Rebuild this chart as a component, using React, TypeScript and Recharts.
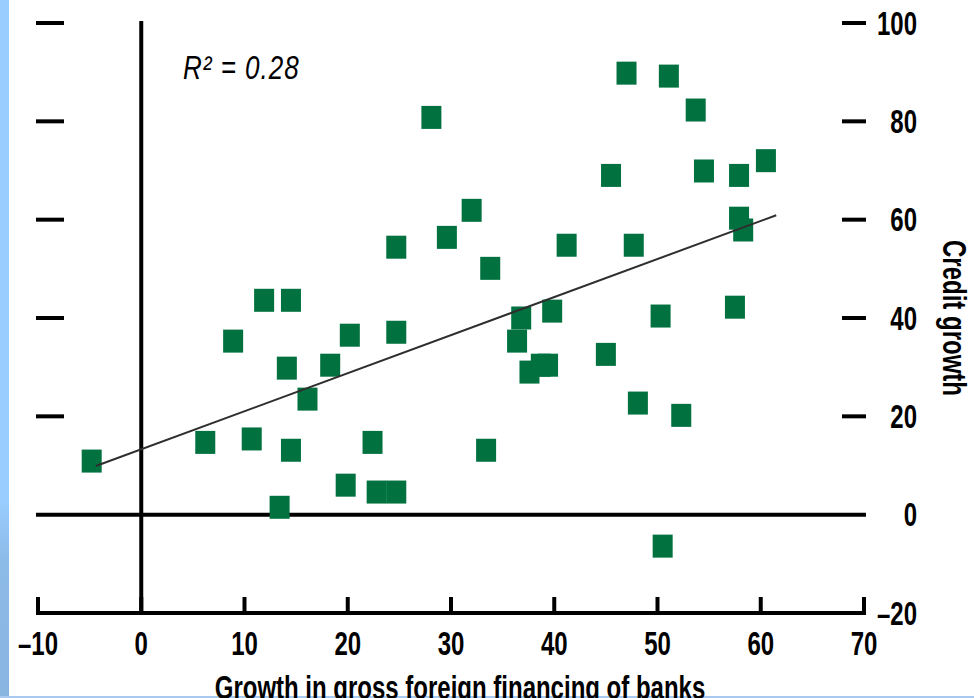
import React from "react";
import { ScatterChart, Scatter, XAxis, YAxis, ReferenceLine } from "recharts";

// growth in gross foreign financing of banks (x) vs credit growth (y)
const foreignFinancingGrowth = [
    -4.8, 6.2, 8.9, 10.7, 11.9, 14.5, 14.1, 14.5, 13.4, 16.1, 18.3, 20.2, 19.8,
    22.4, 22.8, 24.7, 24.7, 24.7, 28.1, 29.6, 32.0, 33.4, 33.8, 36.4, 36.8, 37.6,
    38.7, 39.4, 39.8, 41.2, 45.0, 45.5, 47.0, 47.7, 48.1, 50.3, 50.5, 51.1, 52.3,
    53.7, 54.5, 57.5, 57.9, 57.9, 58.3, 60.5,
];
const creditGrowth = [
    10.9, 14.7, 35.3, 15.4, 43.6, 43.6, 29.8, 13.1, 1.5, 23.5, 30.4, 36.5, 6.0,
    14.7, 4.6, 4.6, 37.1, 54.4, 80.8, 56.4, 61.9, 13.1, 50.1, 35.3, 40.0, 29.0,
    30.4, 30.4, 41.4, 54.8, 32.6, 69.0, 89.8, 54.8, 22.7, 40.4, -6.4, 89.2, 20.2,
    82.3, 69.9, 42.2, 69.0, 60.3, 57.9, 72.0,
];

// end points of the fitted line
const fitX = [-4.4, 61.5];
const fitY = [9.9, 60.9];

const xTicks = [-10, 0, 10, 20, 30, 40, 50, 60, 70];
const yTicks = [-20, 0, 20, 40, 60, 80, 100];
const leftTicks = [20, 40, 60, 80, 100];

const FONT = "'Liberation Sans', Arial, sans-serif";
const GREEN = "#00713f";

const fmt = (v: number) => (v < 0 ? "\u2013" + Math.abs(v) : String(v));

const Square = (props: any) => {
    const { cx, cy } = props;
    if (cx == null || cy == null) return <g />;
    return <rect x={cx - 10} y={cy - 11.5} width={20} height={23} fill={GREEN} />;
};

const NoShape = () => <g />;

const XTick = (props: any) => {
    const { x, y, payload } = props;
    return (
        <g>
            <line x1={x} y1={y} x2={x} y2={y - 16} stroke="#000" strokeWidth={4} />
            <text
                transform={`translate(${x},${y + 42}) scale(1,1.35)`}
                textAnchor="middle"
                fontSize={24}
                fontWeight="bold"
                fontFamily={FONT}
                fill="#000"
            >
                {fmt(payload.value)}
            </text>
        </g>
    );
};

const RightTick = (props: any) => {
    const { x, y, payload } = props;
    const v = payload.value;
    return (
        <g>
            {v > 0 && <line x1={x - 22} y1={y} x2={x + 2} y2={y} stroke="#000" strokeWidth={4} />}
            <text
                transform={`translate(${x + 53},${y + 11.5}) scale(1,1.35)`}
                textAnchor="end"
                fontSize={24}
                fontWeight="bold"
                fontFamily={FONT}
                fill="#000"
            >
                {fmt(v)}
            </text>
        </g>
    );
};

const LeftTick = (props: any) => {
    const { x, y } = props;
    return <line x1={x - 2} y1={y} x2={x + 26} y2={y} stroke="#000" strokeWidth={4} />;
};

const XLabel = (props: any) => {
    const vb = props.viewBox || { x: 38, y: 613, width: 826 };
    return (
        <text
            transform={`translate(${vb.x + vb.width / 2 + 9},${vb.y + 86}) scale(1,1.35)`}
            textAnchor="middle"
            fontSize={24}
            fontWeight="bold"
            fontFamily={FONT}
            fill="#000"
        >
            Growth in gross foreign financing of banks
        </text>
    );
};

const YLabel = (props: any) => {
    const vb = props.viewBox || { x: 864, y: 23, height: 590 };
    return (
        <text
            transform={`translate(${vb.x + 79},${vb.y + vb.height / 2}) rotate(90) scale(1,1.35)`}
            textAnchor="middle"
            fontSize={24}
            fontWeight="bold"
            fontFamily={FONT}
            fill="#000"
        >
            Credit growth
        </text>
    );
};

const R2Label = () => (
    <text
        transform="translate(183,79) scale(1,1.25)"
        fontSize={26}
        fontStyle="italic"
        fontFamily={FONT}
        letterSpacing={1}
        fill="#000"
    >
        R² = 0.28
    </text>
);

export default function App() {
    const points = foreignFinancingGrowth.map((x, i) => ({ x, y: creditGrowth[i] }));
    const fitLine = fitX.map((x, i) => ({ x, y: fitY[i] }));

    return (
        <div
            style={{
                position: "absolute",
                left: 0,
                top: 0,
                width: 974,
                height: 698,
                background: "#fff",
                overflow: "hidden",
            }}
        >
            <div
                style={{
                    position: "absolute",
                    left: 0,
                    top: 0,
                    width: 9,
                    height: 698,
                    background:
                        "linear-gradient(to bottom, #99ccff 0%, #99ccff 72%, #8dbbe8 80%, #88b4e0 100%)",
                }}
            />
            <div
                style={{
                    position: "absolute",
                    left: 0,
                    bottom: 0,
                    width: 974,
                    height: 2,
                    background: "#a9c9f0",
                }}
            />
            <div style={{ position: "absolute", left: 0, top: 0 }}>
                <ScatterChart
                    width={974}
                    height={698}
                    margin={{ top: 23, right: 0, bottom: 0, left: 0 }}
                >
                    <XAxis
                        type="number"
                        dataKey="x"
                        domain={[-10, 70]}
                        ticks={xTicks}
                        interval={0}
                        allowDataOverflow
                        height={85}
                        tickSize={0}
                        tickMargin={0}
                        tickLine={false}
                        axisLine={{ stroke: "#000", strokeWidth: 4, strokeLinecap: "square" }}
                        tick={(p: any) => <XTick {...p} />}
                        label={{ value: "Growth in gross foreign financing of banks", content: XLabel }}
                    />
                    <YAxis
                        yAxisId="left"
                        orientation="left"
                        type="number"
                        dataKey="y"
                        domain={[-20, 100]}
                        ticks={leftTicks}
                        interval={0}
                        allowDataOverflow
                        width={38}
                        tickSize={0}
                        tickMargin={0}
                        tickLine={false}
                        axisLine={false}
                        tick={(p: any) => <LeftTick {...p} />}
                        label={{ value: "R² = 0.28", content: R2Label }}
                    />
                    <YAxis
                        yAxisId="right"
                        orientation="right"
                        type="number"
                        dataKey="y"
                        domain={[-20, 100]}
                        ticks={yTicks}
                        interval={0}
                        allowDataOverflow
                        width={110}
                        tickSize={0}
                        tickMargin={0}
                        tickLine={false}
                        axisLine={false}
                        tick={(p: any) => <RightTick {...p} />}
                        label={{ value: "Credit growth", content: YLabel }}
                    />
                    <ReferenceLine
                        yAxisId="right"
                        x={0}
                        stroke="#000"
                        strokeWidth={4}
                        strokeLinecap="square"
                    />
                    <ReferenceLine
                        yAxisId="right"
                        y={0}
                        stroke="#000"
                        strokeWidth={4}
                        strokeLinecap="square"
                    />
                    <Scatter
                        yAxisId="right"
                        data={points}
                        shape={Square}
                        isAnimationActive={false}
                    />
                    <Scatter
                        yAxisId="right"
                        data={fitLine}
                        line={{ stroke: "#2e2e2e", strokeWidth: 2 }}
                        shape={NoShape}
                        isAnimationActive={false}
                    />
                </ScatterChart>
            </div>
        </div>
    );
}
